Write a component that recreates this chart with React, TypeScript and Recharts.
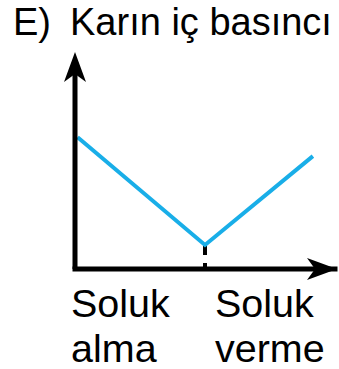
import React from 'react';
import { LineChart, Line, XAxis, YAxis, ReferenceLine } from 'recharts';

// Karın iç basıncı: falls during inhalation, rises again during exhalation
const phaseTime = [0.1, 5, 9.15];
const pressure = [6.3, 1.15, 5.4];
const phaseLabels = ['Soluk alma', 'Soluk verme'];
const phaseTicks = [0, 5];
const labelShift = [-4, 10];

const data = phaseTime.map((t, i) => ({ t, p: pressure[i] }));

const FONT = '"Liberation Sans", Arial, Helvetica, sans-serif';

const PhaseTick = (props: any) => {
  const { x, y, index } = props;
  const [first, second] = phaseLabels[index].split(' ');
  const lx = x + labelShift[index];
  return (
    <text x={lx} y={y} fontSize={39.5} fontFamily={FONT} fill="#000" textAnchor="start">
      <tspan x={lx} dy={48}>{first}</tspan>
      <tspan x={lx} dy={45}>{second}</tspan>
    </text>
  );
};

export default function App() {
  return (
    <div style={{ position: 'absolute', left: 0, top: 0, width: 339, height: 369, background: '#fff' }}>
      <LineChart width={339} height={369} data={data} margin={{ top: 60, right: 4, bottom: 0, left: 65 }}>
        <defs>
          <marker id="arrowHead" markerUnits="userSpaceOnUse" markerWidth={32} markerHeight={24}
            refX={28} refY={11} orient="auto-start-reverse" viewBox="0 0 32 24">
            <path d="M0,0 L30,11 L0,22 L8,11 Z" fill="#000" />
          </marker>
          <marker id="arrowHeadY" markerUnits="userSpaceOnUse" markerWidth={32} markerHeight={24}
            refX={22} refY={11} orient="auto-start-reverse" viewBox="0 0 32 24">
            <path d="M0,0 L30,11 L0,22 L8,11 Z" fill="#000" />
          </marker>
        </defs>
        <text x={13} y={35} fontSize={38} fontFamily={FONT} fill="#000">E)</text>
        <text x={70} y={35} fontSize={38} fontFamily={FONT} fill="#000">Karın iç basıncı</text>
        <XAxis
          type="number"
          dataKey="t"
          domain={[0, 10]}
          ticks={phaseTicks}
          interval={0}
          tickLine={false}
          tickSize={0}
          tickMargin={0}
          height={100}
          tick={<PhaseTick />}
          axisLine={{ stroke: '#000', strokeWidth: 5, strokeLinecap: 'square', markerEnd: 'url(#arrowHead)' }}
        />
        <YAxis
          type="number"
          domain={[0, 10]}
          width={10}
          tick={false}
          tickLine={false}
          axisLine={{ stroke: '#000', strokeWidth: 5, markerStart: 'url(#arrowHeadY)' }}
        />
        <ReferenceLine
          segment={[{ x: phaseTime[1], y: pressure[1] }, { x: phaseTime[1], y: 0 }]}
          stroke="#000"
          strokeWidth={4}
          strokeDasharray="10 8"
        />
        <Line type="linear" dataKey="p" stroke="#19aee8" strokeWidth={4} dot={false} activeDot={false} isAnimationActive={false} />
      </LineChart>
    </div>
  );
}
